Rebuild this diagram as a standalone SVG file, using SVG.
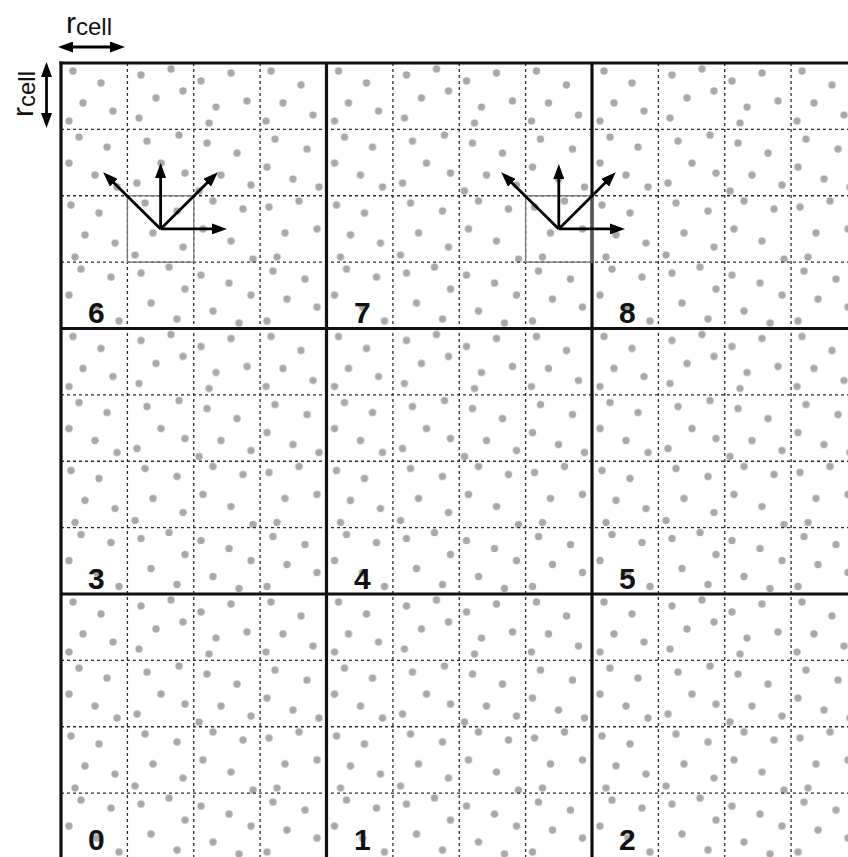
<svg xmlns="http://www.w3.org/2000/svg" width="848" height="857" viewBox="0 0 848 857">
<style>
.thick{stroke:#111;stroke-width:3.2;fill:none}
.dot{stroke:#2e2e2e;stroke-width:1.3;stroke-dasharray:3 3;fill:none}
.sq{stroke:#7a7a7a;stroke-width:1.3;fill:none}
.arr{stroke:#000;stroke-width:2.8;fill:none;marker-end:url(#ah)}
.dim{stroke:#000;stroke-width:2.8;fill:none;marker-end:url(#ah);marker-start:url(#ahs)}
.num{font-family:"Liberation Sans",Arial,sans-serif;font-weight:bold;font-size:30px;fill:#111}
.lab{font-family:"Liberation Sans",Arial,sans-serif;fill:#111}
.pt{fill:#a9a9a9}
</style>
<defs>
<marker id="ah" viewBox="0 0 15 11" markerUnits="userSpaceOnUse" markerWidth="15" markerHeight="11" refX="4" refY="5.5" orient="auto"><path d="M0,0 L15,5.5 L0,11 z" fill="#000"/></marker>
<marker id="ahs" viewBox="0 0 15 11" markerUnits="userSpaceOnUse" markerWidth="15" markerHeight="11" refX="11" refY="5.5" orient="auto"><path d="M15,0 L0,5.5 L15,11 z" fill="#000"/></marker>
<pattern id="dots" patternUnits="userSpaceOnUse" x="61" y="63" width="265.5" height="265.5">
<g class="pt">
<circle cx="12" cy="8" r="3.7"/><circle cx="40" cy="20" r="3.7"/><circle cx="22" cy="40" r="3.7"/><circle cx="52" cy="48" r="3.7"/><circle cx="8" cy="58" r="3.7"/>
<circle cx="80" cy="12" r="3.7"/><circle cx="110" cy="6" r="3.7"/><circle cx="95" cy="35" r="3.7"/><circle cx="122" cy="28" r="3.7"/><circle cx="78" cy="55" r="3.7"/>
<circle cx="140" cy="18" r="3.7"/><circle cx="170" cy="10" r="3.7"/><circle cx="155" cy="44" r="3.7"/><circle cx="186" cy="38" r="3.7"/><circle cx="148" cy="60" r="3.7"/>
<circle cx="210" cy="8" r="3.7"/><circle cx="240" cy="22" r="3.7"/><circle cx="222" cy="40" r="3.7"/><circle cx="252" cy="52" r="3.7"/><circle cx="205" cy="58" r="3.7"/>
<circle cx="18" cy="74" r="3.7"/><circle cx="46" cy="84" r="3.7"/><circle cx="8" cy="100" r="3.7"/><circle cx="34" cy="112" r="3.7"/><circle cx="56" cy="124" r="3.7"/>
<circle cx="86" cy="78" r="3.7"/><circle cx="118" cy="72" r="3.7"/><circle cx="100" cy="100" r="3.7"/><circle cx="76" cy="120" r="3.7"/><circle cx="124" cy="110" r="3.7"/>
<circle cx="146" cy="80" r="3.7"/><circle cx="176" cy="90" r="3.7"/><circle cx="160" cy="112" r="3.7"/><circle cx="190" cy="122" r="3.7"/><circle cx="138" cy="128" r="3.7"/>
<circle cx="214" cy="76" r="3.7"/><circle cx="246" cy="86" r="3.7"/><circle cx="206" cy="104" r="3.7"/><circle cx="232" cy="116" r="3.7"/><circle cx="258" cy="124" r="3.7"/>
<circle cx="10" cy="142" r="3.7"/><circle cx="38" cy="150" r="3.7"/><circle cx="24" cy="172" r="3.7"/><circle cx="54" cy="180" r="3.7"/><circle cx="14" cy="194" r="3.7"/>
<circle cx="84" cy="140" r="3.7"/><circle cx="116" cy="148" r="3.7"/><circle cx="92" cy="170" r="3.7"/><circle cx="122" cy="184" r="3.7"/><circle cx="74" cy="192" r="3.7"/>
<circle cx="152" cy="138" r="3.7"/><circle cx="182" cy="146" r="3.7"/><circle cx="142" cy="166" r="3.7"/><circle cx="170" cy="178" r="3.7"/><circle cx="192" cy="196" r="3.7"/>
<circle cx="208" cy="144" r="3.7"/><circle cx="238" cy="138" r="3.7"/><circle cx="224" cy="170" r="3.7"/><circle cx="256" cy="166" r="3.7"/><circle cx="216" cy="194" r="3.7"/>
<circle cx="20" cy="206" r="3.7"/><circle cx="50" cy="214" r="3.7"/><circle cx="8" cy="232" r="3.7"/><circle cx="36" cy="244" r="3.7"/><circle cx="58" cy="258" r="3.7"/>
<circle cx="80" cy="210" r="3.7"/><circle cx="108" cy="204" r="3.7"/><circle cx="124" cy="226" r="3.7"/><circle cx="90" cy="240" r="3.7"/><circle cx="116" cy="256" r="3.7"/>
<circle cx="140" cy="212" r="3.7"/><circle cx="168" cy="220" r="3.7"/><circle cx="190" cy="232" r="3.7"/><circle cx="152" cy="248" r="3.7"/><circle cx="178" cy="260" r="3.7"/>
<circle cx="212" cy="208" r="3.7"/><circle cx="244" cy="216" r="3.7"/><circle cx="226" cy="236" r="3.7"/><circle cx="256" cy="244" r="3.7"/><circle cx="206" cy="258" r="3.7"/>
</g>
</pattern>
</defs>
<rect width="848" height="857" fill="#fff"/>
<g id="particles"><rect x="61" y="63" width="787" height="794" fill="url(#dots)"/></g>
<g id="subcell-grid" class="dot">
<path d="M127.4,63V857M193.75,63V857M260.1,63V857M392.9,63V857M459.25,63V857M525.6,63V857M658.4,63V857M724.75,63V857M791.1,63V857"/>
<path d="M61,129.4H848M61,195.75H848M61,262.1H848M61,394.9H848M61,461.25H848M61,527.6H848M61,660.4H848M61,726.75H848M61,793.1H848"/>
</g>
<g id="cells" class="thick">
<path d="M61,61.4V857M326.5,63V857M592,63V857"/>
<path d="M59.4,63H848M61,328.5H848M61,594H848"/>
</g>
<g id="cell-labels">
<text class="num" x="88" y="323">6</text>
<text class="num" x="354" y="323">7</text>
<text class="num" x="619" y="323">8</text>
<text class="num" x="88" y="589">3</text>
<text class="num" x="354" y="589">4</text>
<text class="num" x="619" y="589">5</text>
<text class="num" x="88" y="850">0</text>
<text class="num" x="354" y="850">1</text>
<text class="num" x="619" y="850">2</text>
</g>
<g id="stencil-6">
<rect class="sq" x="127.4" y="195.75" width="66.35" height="66.35"/>
<path class="arr" d="M160.6,228.9V174"/>
<path class="arr" d="M160.6,228.9H216"/>
<path class="arr" d="M160.6,228.9L210,180"/>
<path class="arr" d="M160.6,228.9L111,180"/>
</g>
<g id="stencil-7">
<rect class="sq" x="525.6" y="195.75" width="66.4" height="66.35"/>
<path class="arr" d="M558.8,228.9V175"/>
<path class="arr" d="M558.8,228.9H614"/>
<path class="arr" d="M558.8,228.9L608,180"/>
<path class="arr" d="M558.8,228.9L509,180"/>
</g>
<g id="dimensions">
<path class="dim" d="M69,47H114"/>
<path class="dim" d="M46.5,73V117"/>
<text class="lab" x="66" y="33" font-size="30">r<tspan font-size="24" dy="2">cell</tspan></text>
<text class="lab" transform="translate(33,117) rotate(-90)" font-size="30">r<tspan font-size="24" dy="2">cell</tspan></text>
</g>
</svg>
